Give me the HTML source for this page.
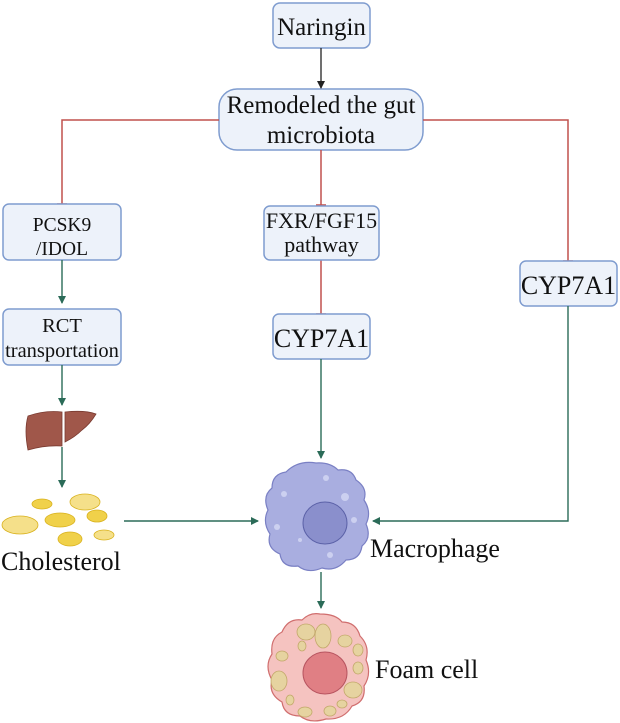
<!DOCTYPE html>
<html><head><meta charset="utf-8"><style>
html,body{margin:0;padding:0;background:#fff;}
svg{display:block;}
text{font-family:"Liberation Serif",serif;fill:#111;}
.b{fill:#edf2fa;stroke:#7f9ccf;stroke-width:1.5;}
</style></head><body>
<svg width="620" height="723" viewBox="0 0 620 723" xmlns="http://www.w3.org/2000/svg">
<defs>
<marker id="ak" markerWidth="8" markerHeight="8" refX="7" refY="4" orient="auto" markerUnits="userSpaceOnUse"><path d="M0,0 L8,4 L0,8z" fill="#222"/></marker>
<marker id="ag" markerWidth="8" markerHeight="8" refX="7" refY="4" orient="auto" markerUnits="userSpaceOnUse"><path d="M0,0 L8,4 L0,8z" fill="#2b6b58"/></marker>
</defs>
<rect class="b" x="273" y="3" width="97" height="45" rx="7"/>
<text x="321.5" y="35" font-size="25" text-anchor="middle">Naringin</text>
<rect class="b" x="219" y="89" width="204" height="61" rx="18"/>
<text x="321" y="113" font-size="25" text-anchor="middle">Remodeled the gut</text>
<text x="321" y="143" font-size="25" text-anchor="middle">microbiota</text>
<line x1="321" y1="48" x2="321" y2="88" stroke="#222" stroke-width="1.3" marker-end="url(#ak)"/>
<g stroke="#c0504d" stroke-width="1.5" fill="none">
<polyline points="219,120 62,120 62,204"/><line x1="57" y1="204" x2="67" y2="204"/>
<polyline points="423,120 568,120 568,261"/><line x1="563" y1="261" x2="573" y2="261"/>
<line x1="321" y1="150" x2="321" y2="205"/><line x1="316" y1="205" x2="326" y2="205"/>
<line x1="321" y1="260" x2="321" y2="314"/><line x1="316" y1="314" x2="326" y2="314"/>
</g>
<rect class="b" x="3" y="204" width="118" height="56" rx="6"/>
<text x="62" y="231" font-size="19.5" text-anchor="middle">PCSK9</text>
<text x="62" y="255" font-size="19.5" text-anchor="middle">/IDOL</text>
<rect class="b" x="264" y="206" width="115" height="54" rx="6"/>
<text x="321.5" y="228" font-size="22" text-anchor="middle">FXR/FGF15</text>
<text x="321.5" y="252" font-size="22" text-anchor="middle">pathway</text>
<rect class="b" x="520" y="261" width="97" height="45" rx="6"/>
<text x="568.5" y="294" font-size="26" text-anchor="middle">CYP7A1</text>
<rect class="b" x="3" y="309" width="118" height="56" rx="6"/>
<text x="62" y="332" font-size="20.5" text-anchor="middle">RCT</text>
<text x="62" y="357" font-size="20.5" text-anchor="middle">transportation</text>
<rect class="b" x="273" y="314" width="97" height="45" rx="6"/>
<text x="321.5" y="347" font-size="26" text-anchor="middle">CYP7A1</text>
<g stroke="#2b6b58" stroke-width="1.4" fill="none">
<line x1="62" y1="260" x2="62" y2="303" marker-end="url(#ag)"/>
<line x1="62" y1="365" x2="62" y2="405" marker-end="url(#ag)"/>
<line x1="62" y1="447" x2="62" y2="487" marker-end="url(#ag)"/>
<line x1="321" y1="359" x2="321" y2="458" marker-end="url(#ag)"/>
<line x1="124" y1="521" x2="258" y2="521" marker-end="url(#ag)"/>
<polyline points="568,306 568,521 373,521" marker-end="url(#ag)"/>
<line x1="321" y1="572" x2="321" y2="608" marker-end="url(#ag)"/>
</g>
<path d="M28,416 Q45,410 62,412 L62,446 Q45,445 28,450 Q24,430 28,416z" fill="#a0574a" stroke="#7a3b31" stroke-width="0.8"/>
<path d="M65,412 Q85,410 96,414 Q90,424 82,430 Q75,437 65,442z" fill="#a0574a" stroke="#7a3b31" stroke-width="0.8"/>
<g fill="#f0d14a" stroke="#d9b21e" stroke-width="0.8">
<ellipse cx="42" cy="504" rx="10" ry="5"/>
<ellipse cx="85" cy="502" rx="15" ry="8" fill="#f5e08a"/>
<ellipse cx="60" cy="520" rx="15" ry="7"/>
<ellipse cx="97" cy="516" rx="10" ry="6"/>
<ellipse cx="20" cy="525" rx="18" ry="9" fill="#f5e08a"/>
<ellipse cx="70" cy="539" rx="12" ry="7"/>
<ellipse cx="104" cy="535" rx="10" ry="5" fill="#f5e08a"/>
</g>
<text x="1" y="570" font-size="26">Cholesterol</text>
<path d="M316,463 Q330,462 338,470 Q352,468 356,480 Q368,488 364,500 Q372,512 366,524 Q372,538 362,546 Q360,560 346,560 Q336,572 322,568 Q308,574 298,566 Q282,568 280,554 Q266,548 270,534 Q262,522 268,510 Q262,496 272,488 Q272,474 286,472 Q298,460 316,463z" fill="#a9aee0" stroke="#7a80c4" stroke-width="1.2"/>
<g fill="#ccd0f0"><circle cx="326" cy="478" r="3"/><circle cx="345" cy="497" r="4"/><circle cx="284" cy="494" r="3"/><circle cx="277" cy="527" r="3"/><circle cx="354" cy="520" r="3"/><circle cx="330" cy="555" r="3"/><circle cx="300" cy="540" r="2"/></g>
<ellipse cx="325" cy="523" rx="22" ry="21" fill="#8a8fcc" stroke="#5c62a8" stroke-width="1"/>
<text x="370" y="557" font-size="26">Macrophage</text>
<path d="M320,614 Q336,614 342,622 Q356,622 360,636 Q370,646 366,660 Q372,674 364,686 Q366,702 352,706 Q344,720 326,719 Q310,724 300,716 Q284,716 282,702 Q268,694 272,680 Q264,666 272,654 Q270,638 282,632 Q288,618 302,620 Q310,612 320,614z" fill="#f5c3c0" stroke="#d06e6e" stroke-width="1.2"/>
<g fill="#e6d3a0" stroke="#c2a86a" stroke-width="0.8">
<ellipse cx="306" cy="632" rx="9" ry="8"/><ellipse cx="323" cy="636" rx="8" ry="12"/><ellipse cx="345" cy="641" rx="7" ry="6"/>
<ellipse cx="358" cy="650" rx="5" ry="6"/><ellipse cx="282" cy="656" rx="6" ry="5"/><ellipse cx="279" cy="681" rx="8" ry="10"/>
<ellipse cx="358" cy="668" rx="5" ry="6"/><ellipse cx="353" cy="690" rx="9" ry="8"/><ellipse cx="290" cy="700" rx="4" ry="5"/>
<ellipse cx="305" cy="712" rx="7" ry="5"/><ellipse cx="330" cy="711" rx="6" ry="5"/><ellipse cx="342" cy="704" rx="5" ry="4"/>
<ellipse cx="302" cy="646" rx="4" ry="5"/>
</g>
<ellipse cx="325" cy="673" rx="22" ry="21" fill="#e07f84" stroke="#b85560" stroke-width="1"/>
<text x="375" y="678" font-size="26">Foam cell</text>
</svg>
</body></html>
